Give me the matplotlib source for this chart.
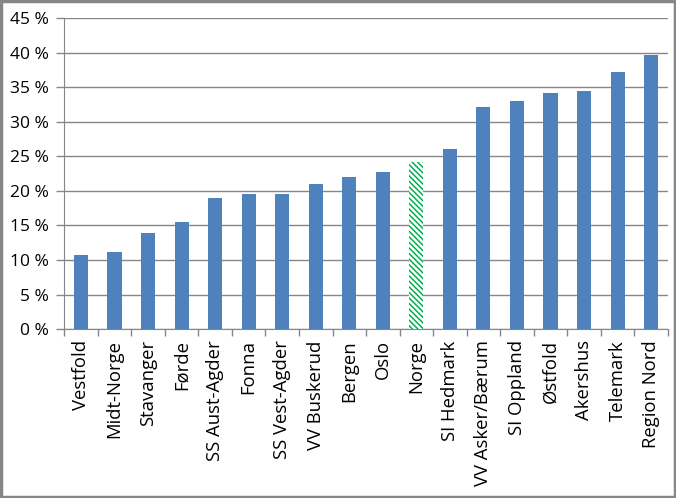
import matplotlib
matplotlib.use("Agg")
import matplotlib.pyplot as plt
import matplotlib.ticker as ticker
from matplotlib.patches import Rectangle

# === data ===
regions = ["Vestfold", "Midt-Norge", "Stavanger", "Førde", "SS Aust-Agder", "Fonna",
           "SS Vest-Agder", "VV Buskerud", "Bergen", "Oslo", "Norge", "SI Hedmark",
           "VV Asker/Bærum", "SI Oppland", "Østfold", "Akershus", "Telemark", "Region Nord"]
shares = [10.7, 11.1, 13.9, 15.5, 19.0, 19.5, 19.5, 21.0, 22.0, 22.7, 24.2, 26.0,
          32.1, 33.0, 34.2, 34.4, 37.2, 39.6]
highlight = "Norge"

plt.rcParams["font.family"] = ["Open Sans", "DejaVu Sans"]
plt.rcParams["hatch.linewidth"] = 1.1

fig = plt.figure(figsize=(6.76, 4.98), dpi=100)
ax = fig.add_axes([0.095, 0.339, 0.893, 0.625])

x = list(range(len(regions)))
blue = "#4F81BD"
green = "#00B050"
bars = ax.bar(x, shares, width=0.42, color=blue, zorder=3)
for b, name in zip(bars, regions):
    if name == highlight:
        b.set_facecolor("white")
        b.set_edgecolor(green)
        b.set_hatch("\\\\\\\\\\\\")
        b.set_linewidth(0)

ax.set_xlim(-0.5, len(regions) - 0.5)
ax.set_ylim(0, 45)
ax.set_yticks(range(0, 46, 5))
ax.yaxis.set_major_formatter(ticker.FuncFormatter(lambda v, _: f"{int(v)} %"))
ax.grid(axis="y", color="#868686", linewidth=1, zorder=0)

ax.set_xticks(x)
ax.set_xticklabels(regions, rotation=90, fontsize=13.3)
ax.tick_params(axis="x", length=0, pad=8)
ax.set_xticks([i - 0.5 for i in range(len(regions) + 1)], minor=True)
ax.tick_params(axis="x", which="minor", length=5, color="#868686", width=1)
ax.tick_params(axis="y", length=6, color="#868686", width=1, labelsize=12.5, pad=5)

for s in ["top", "right"]:
    ax.spines[s].set_visible(False)
ax.spines["left"].set_color("#868686")
ax.spines["bottom"].set_color("#868686")

# outer chart border
fig.patches.append(Rectangle((0.002, 0.003), 0.996, 0.994, transform=fig.transFigure,
                             fill=False, edgecolor="#868686", linewidth=2.5))

fig.savefig("out.png", dpi=100)
